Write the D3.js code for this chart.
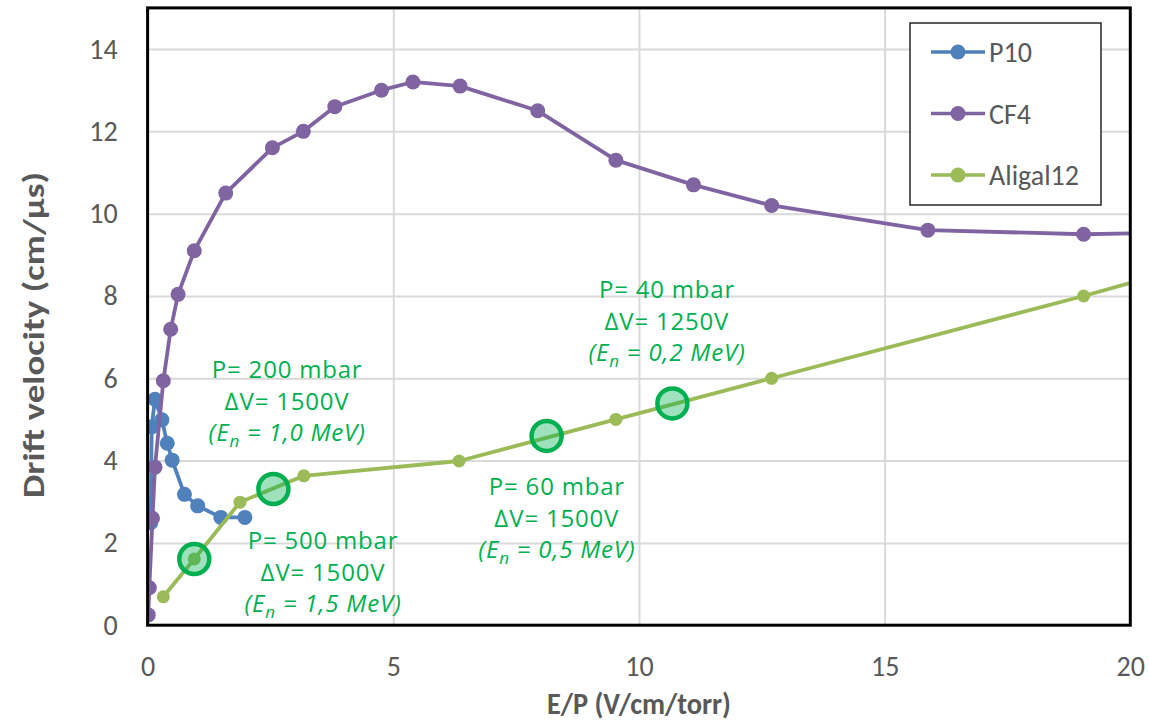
<!DOCTYPE html>
<html>
<head>
<meta charset="utf-8">
<script src="https://cdn.jsdelivr.net/npm/d3@7"></script>
<style>
  body { margin: 0; background: #fff; }
</style>
</head>
<body>
<script>
// data
var p10X = [0.063, 0.083, 0.15, 0.29, 0.40, 0.50, 0.75, 1.02, 1.49, 1.98];
var p10Y = [2.49, 4.82, 5.49, 4.99, 4.42, 4.01, 3.18, 2.90, 2.62, 2.62];

var cf4X = [0.014, 0.035, 0.10, 0.15, 0.32, 0.47, 0.62, 0.95, 1.59, 2.54, 3.17, 3.81, 4.76, 5.40, 6.36, 7.94, 9.53, 11.11, 12.70, 15.88, 19.05, 22.2];
var cf4Y = [0.25, 0.91, 2.60, 3.84, 5.94, 7.19, 8.04, 9.10, 10.50, 11.60, 12.00, 12.60, 13.00, 13.20, 13.10, 12.50, 11.30, 10.70, 10.20, 9.60, 9.50, 9.57];

var aligalX = [0.32, 0.95, 1.88, 3.18, 6.34, 9.53, 12.70, 19.05, 22.2];
var aligalY = [0.69, 1.61, 2.99, 3.63, 3.99, 5.00, 6.00, 8.00, 9.05];

// highlighted measurement points
var markX = [0.95, 2.56, 8.12, 10.68];
var markY = [1.61, 3.31, 4.60, 5.39];

// annotation text (first line anchor in data units)
var noteX = [2.84, 3.57, 10.57, 8.33];
var noteY = [6.2, 2.04, 8.14, 3.36];
var notePressure = ["P= 200 mbar", "P= 500 mbar", "P= 40 mbar", "P= 60 mbar"];
var noteVoltage = ["\u2206V= 1500V", "\u2206V= 1500V", "\u2206V= 1250V", "\u2206V= 1500V"];
var noteEnergy = [" = 1,0 MeV)", " = 1,5 MeV)", " = 0,2 MeV)", " = 0,5 MeV)"];

var xTicks = [0, 5, 10, 15, 20];
var yTicks = [0, 2, 4, 6, 8, 10, 12, 14];

var seriesNames = ["P10", "CF4", "Aligal12"];
var seriesColors = ["#4f81bd", "#8064a2", "#9bbb59"];

var width = 1149;
var height = 722;
var margin = {left: 147.6, right: 18.7, top: 7.9, bottom: 96.8};
var textGrey = "#595959";
var noteGreen = "#00b050";
var font = "Carlito, Lato, 'Open Sans', sans-serif";

var svg = d3.select("body").append("svg")
  .attr("width", width)
  .attr("height", height);

var xScale = d3.scaleLinear().domain([0, 20]).range([margin.left, width - margin.right]);
var yScale = d3.scaleLinear().domain([0, 15]).range([height - margin.bottom, margin.top]);

svg.append("defs").append("clipPath").attr("id", "plotclip")
  .append("rect")
  .attr("x", xScale(0)).attr("y", yScale(15))
  .attr("width", xScale(20) - xScale(0))
  .attr("height", yScale(0) - yScale(15));

// gridlines
svg.append("g")
  .attr("transform", "translate(0," + yScale(0) + ")")
  .call(d3.axisBottom(xScale).tickValues(xTicks.slice(1, -1)).tickSize(-(yScale(0) - yScale(15))).tickFormat(""))
  .call(function(g) { g.select(".domain").remove(); })
  .selectAll("line").attr("stroke", "#d9d9d9").attr("stroke-width", 2);

svg.append("g")
  .attr("transform", "translate(" + xScale(0) + ",0)")
  .call(d3.axisLeft(yScale).tickValues(yTicks.slice(1)).tickSize(-(xScale(20) - xScale(0))).tickFormat(""))
  .call(function(g) { g.select(".domain").remove(); })
  .selectAll("line").attr("stroke", "#d9d9d9").attr("stroke-width", 2);

// tick labels
var xAxis = svg.append("g")
  .attr("transform", "translate(0," + yScale(0) + ")")
  .call(d3.axisBottom(xScale).tickValues(xTicks).tickSize(0).tickPadding(31));
xAxis.select(".domain").remove();
xAxis.selectAll("text").attr("fill", textGrey).style("font-family", font).style("font-size", "28px");

var yAxis = svg.append("g")
  .attr("transform", "translate(" + xScale(0) + ",0)")
  .call(d3.axisLeft(yScale).tickValues(yTicks).tickSize(0).tickPadding(30));
yAxis.select(".domain").remove();
yAxis.selectAll("text").attr("fill", textGrey).style("font-family", font).style("font-size", "28px");

// axis titles
svg.append("text")
  .attr("x", (xScale(0) + xScale(20)) / 2)
  .attr("y", 714)
  .attr("text-anchor", "middle")
  .attr("fill", textGrey)
  .attr("textLength", 184)
  .attr("lengthAdjust", "spacingAndGlyphs")
  .style("font-family", font).style("font-size", "31px").style("font-weight", "bold")
  .text("E/P (V/cm/torr)");

svg.append("text")
  .attr("transform", "translate(44,335) rotate(-90)")
  .attr("text-anchor", "middle")
  .attr("fill", textGrey)
  .attr("textLength", 326)
  .attr("lengthAdjust", "spacingAndGlyphs")
  .style("font-family", font).style("font-size", "31px").style("font-weight", "bold")
  .text("Drift velocity (cm/\u03bcs)");

// series
var allX = [p10X, cf4X, aligalX];
var allY = [p10Y, cf4Y, aligalY];
var radii = [7.5, 7.5, 6.5];

var plot = svg.append("g").attr("clip-path", "url(#plotclip)");
var line = d3.line().x(function(d) { return xScale(d[0]); }).y(function(d) { return yScale(d[1]); });

allX.forEach(function(xs, i) {
  var pts = xs.map(function(x, j) { return [x, allY[i][j]]; });
  plot.append("path")
    .datum(pts)
    .attr("d", line)
    .attr("fill", "none")
    .attr("stroke", seriesColors[i])
    .attr("stroke-width", 3.8)
    .attr("stroke-linejoin", "round");
  plot.selectAll(".m" + i).data(pts).enter().append("circle")
    .attr("class", "m" + i)
    .attr("cx", function(d) { return xScale(d[0]); })
    .attr("cy", function(d) { return yScale(d[1]); })
    .attr("r", radii[i])
    .attr("fill", seriesColors[i]);
});

// highlighted circles
svg.selectAll(".hl").data(markX).enter().append("circle")
  .attr("class", "hl")
  .attr("cx", function(d) { return xScale(d); })
  .attr("cy", function(d, i) { return yScale(markY[i]); })
  .attr("r", 15)
  .attr("fill", "rgba(0,176,80,0.38)")
  .attr("stroke", noteGreen)
  .attr("stroke-width", 4.5);

// annotations
noteX.forEach(function(nx, i) {
  var t = svg.append("text")
    .attr("text-anchor", "middle")
    .attr("fill", noteGreen)
    .style("font-family", "'Open Sans', sans-serif")
    .style("font-size", "24px")
    .style("letter-spacing", "0.8px");
  var cx = xScale(nx), cy = yScale(noteY[i]) + 8;
  t.append("tspan").attr("x", cx).attr("y", cy).text(notePressure[i]);
  t.append("tspan").attr("x", cx).attr("y", cy + 32).text(noteVoltage[i]);
  var t3 = t.append("tspan").attr("x", cx).attr("y", cy + 63).style("font-style", "italic");
  t3.append("tspan").text("(E");
  t3.append("tspan").attr("dy", 6).style("font-size", "17px").text("n");
  t3.append("tspan").attr("dy", -6).text(noteEnergy[i]);
});

// plot border
svg.append("rect")
  .attr("x", xScale(0)).attr("y", yScale(15))
  .attr("width", xScale(20) - xScale(0))
  .attr("height", yScale(0) - yScale(15))
  .attr("fill", "none")
  .attr("stroke", "#000")
  .attr("stroke-width", 3);

// legend
var legend = svg.append("g");
legend.append("rect")
  .attr("x", 910).attr("y", 23).attr("width", 191).attr("height", 182)
  .attr("fill", "#fff").attr("stroke", "#262626").attr("stroke-width", 1.5);
seriesNames.forEach(function(name, i) {
  var ly = 52 + i * 61.5;
  legend.append("line").attr("x1", 931).attr("x2", 985).attr("y1", ly).attr("y2", ly)
    .attr("stroke", seriesColors[i]).attr("stroke-width", 3.5);
  legend.append("circle").attr("cx", 958).attr("cy", ly).attr("r", 7.5).attr("fill", seriesColors[i]);
  legend.append("text").attr("x", 989).attr("y", ly + 10)
    .attr("fill", textGrey)
    .style("font-family", font).style("font-size", "28px")
    .text(name);
});
</script>
</body>
</html>
